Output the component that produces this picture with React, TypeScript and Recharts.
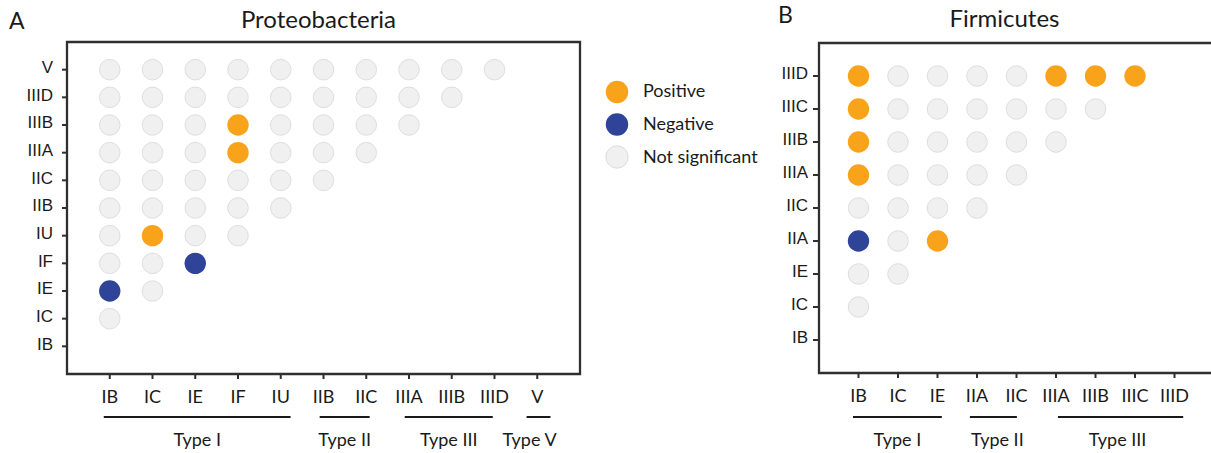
import React from 'react';
import { ScatterChart, Scatter, XAxis, YAxis, ReferenceArea, ReferenceLine, Legend } from 'recharts';

// ---------- data ----------
const proteoCategories = ['IB', 'IC', 'IE', 'IF', 'IU', 'IIB', 'IIC', 'IIIA', 'IIIB', 'IIID', 'V'];
// [x category, y category]
const proteoPositive = [['IC', 'IU'], ['IF', 'IIIA'], ['IF', 'IIIB']];
const proteoNegative = [['IB', 'IE'], ['IE', 'IF']];
const proteoGroups = [
  { label: 'Type I', members: ['IB', 'IC', 'IE', 'IF', 'IU'] },
  { label: 'Type II', members: ['IIB', 'IIC'] },
  { label: 'Type III', members: ['IIIA', 'IIIB', 'IIID'] },
  { label: 'Type V', members: ['V'] },
];

const firmCategories = ['IB', 'IC', 'IE', 'IIA', 'IIC', 'IIIA', 'IIIB', 'IIIC', 'IIID'];
const firmPositive = [
  ['IB', 'IIIA'], ['IB', 'IIIB'], ['IB', 'IIIC'], ['IB', 'IIID'],
  ['IE', 'IIA'], ['IIIA', 'IIID'], ['IIIB', 'IIID'], ['IIIC', 'IIID'],
];
const firmNegative = [['IB', 'IIA']];
const firmGroups = [
  { label: 'Type I', members: ['IB', 'IC', 'IE'] },
  { label: 'Type II', members: ['IIA', 'IIC'] },
  { label: 'Type III', members: ['IIIA', 'IIIB', 'IIIC', 'IIID'] },
];

const legendItems = ['Positive', 'Negative', 'Not significant'];

// ---------- styles / layout ----------
const COLORS: Record<string, string> = {
  Positive: '#F9A31B',
  Negative: '#2F4398',
  'Not significant': '#F0F0F0',
};
const NS_STROKE = '#D2D2D2';
const AXIS = '#2f2f2f';
const TEXT = '#1a1a1a';
const LATO = "Lato, 'Open Sans', sans-serif";
const ARIAL = "'Liberation Sans', Arial, sans-serif";

// bracket extents (axis units, start/end pad around member categories)
const proteoBracketPads = [[0.14, 0.23], [0.09, 0.08], [0.1, -0.04], [0.25, 0.31]];
const proteoLabelDx = [0, 0, 0, -9];
const firmBracketPads = [[0.14, 0.11], [0.18, 0.01], [-0.05, 0.22]];
const firmLabelDx = [0, 4, -3];

function buildCells(cats: string[], pos: string[][], neg: string[][]) {
  const isIn = (list: string[][], a: string, b: string) => list.some((p) => p[0] === a && p[1] === b);
  const out: Record<string, { x: number; y: number }[]> = { Positive: [], Negative: [], 'Not significant': [] };
  cats.forEach((cx, i) => {
    cats.forEach((cy, j) => {
      if (j <= i) return;
      const status = isIn(pos, cx, cy) ? 'Positive' : isIn(neg, cx, cy) ? 'Negative' : 'Not significant';
      out[status].push({ x: i, y: j });
    });
  });
  return out;
}

const Dot = (color: string) => (props: any) => {
  const { cx, cy } = props;
  if (cx == null || cy == null) return <g />;
  if (color === COLORS['Not significant']) {
    return <circle cx={cx} cy={cy} r={10.3} fill={color} stroke={NS_STROKE} strokeWidth={0.7} />;
  }
  return <circle cx={cx} cy={cy} r={10.7} fill={color} />;
};

const LegendBox = () => (
  <svg width={190} height={100} style={{ display: 'block' }}>
    {legendItems.map((name, i) => (
      <g key={name}>
        <circle
          cx={17}
          cy={17 + i * 32.5}
          r={11.2}
          fill={COLORS[name]}
          stroke={name === 'Not significant' ? NS_STROKE : 'none'}
          strokeWidth={0.7}
        />
        <text x={43} y={21.7 + i * 33} fontFamily={LATO} fontSize={18} fill={TEXT}>
          {name}
        </text>
      </g>
    ))}
  </svg>
);

type PanelProps = {
  cats: string[];
  pos: string[][];
  neg: string[][];
  groups: { label: string; members: string[] }[];
  pads: number[][];
  labelDx: number[];
  bracketY: number;
  width: number;
  height: number;
  margin: { top: number; right: number; bottom: number; left: number };
  yTickMargin: number;
  yTickSize: number;
  legend?: boolean;
};

function Panel(p: PanelProps) {
  const cells = buildCells(p.cats, p.pos, p.neg);
  const n = p.cats.length;
  const ticks = p.cats.map((_, i) => i);
  const YTick = (props: any) => (
    <text x={props.x} y={props.y} dy={3.3} textAnchor="end" fontFamily={ARIAL} fontSize={17} fill={TEXT}>
      {p.cats[props.payload.value]}
    </text>
  );
  const XTick = (props: any) => (
    <text x={props.x} y={props.y} dy={22} textAnchor="middle" fontFamily={LATO} fontSize={18} fill={TEXT}>
      {p.cats[props.payload.value]}
    </text>
  );
  return (
    <ScatterChart width={p.width} height={p.height} margin={p.margin}>
      <XAxis
        type="number"
        dataKey="x"
        domain={[-1, n]}
        ticks={ticks}
        interval={0}
        axisLine={false}
        tickLine={{ stroke: AXIS, strokeWidth: 2 }}
        tickSize={5}
        tickMargin={2}
        tick={XTick}
        height={30}
      />
      <YAxis
        type="number"
        dataKey="y"
        domain={[-1, n]}
        ticks={ticks}
        interval={0}
        axisLine={false}
        tickLine={{ stroke: AXIS, strokeWidth: 2 }}
        tickSize={p.yTickSize}
        tickMargin={p.yTickMargin}
        tick={YTick}
        width={60}
      />
      <ReferenceArea x1={-1} x2={n} y1={-1} y2={n} fill="none" stroke={AXIS} strokeWidth={2.3} fillOpacity={0} />
      {p.groups.map((g, gi) => {
        const a = p.cats.indexOf(g.members[0]) - p.pads[gi][0];
        const b = p.cats.indexOf(g.members[g.members.length - 1]) + p.pads[gi][1];
        const dx = p.labelDx[gi];
        return (
          <ReferenceLine
            key={g.label}
            segment={[{ x: a, y: p.bracketY }, { x: b, y: p.bracketY }]}
            ifOverflow="visible"
            stroke="#1a1a1a"
            strokeWidth={2}
            label={(lp: any) => {
              const vb = lp.viewBox || {};
              return (
                <text
                  x={vb.x + (vb.width || 0) / 2 + dx}
                  y={vb.y + 29}
                  textAnchor="middle"
                  fontFamily={LATO}
                  fontSize={18}
                  fill={TEXT}
                >
                  {g.label}
                </text>
              );
            }}
          />
        );
      })}
      <Scatter name="Not significant" data={cells['Not significant']} shape={Dot(COLORS['Not significant'])} isAnimationActive={false} />
      <Scatter name="Positive" data={cells['Positive']} shape={Dot(COLORS['Positive'])} isAnimationActive={false} />
      <Scatter name="Negative" data={cells['Negative']} shape={Dot(COLORS['Negative'])} isAnimationActive={false} />
      {p.legend && (
        <Legend
          layout="vertical"
          align="center"
          verticalAlign="middle"
          wrapperStyle={{ left: 600, top: 75, width: 190, height: 100 }}
          content={() => <LegendBox />}
        />
      )}
    </ScatterChart>
  );
}

export default function App() {
  return (
    <div
      style={{
        position: 'fixed',
        left: 0,
        top: 0,
        width: 1211,
        height: 453,
        overflow: 'hidden',
        background: '#fff',
      }}
    >
      <div style={{ position: 'absolute', left: 0, top: 0 }}>
        <Panel
          cats={proteoCategories}
          pos={proteoPositive}
          neg={proteoNegative}
          groups={proteoGroups}
          pads={proteoBracketPads}
          labelDx={proteoLabelDx}
          bracketY={-2.554}
          width={800}
          height={453}
          margin={{ top: 42, right: 220, bottom: 49, left: 7 }}
          yTickSize={5}
          yTickMargin={9}
          legend
        />
      </div>
      <div style={{ position: 'absolute', left: 740, top: 0 }}>
        <Panel
          cats={firmCategories}
          pos={firmPositive}
          neg={firmNegative}
          groups={firmGroups}
          pads={firmBracketPads}
          labelDx={firmLabelDx}
          bracketY={-2.333}
          width={500}
          height={453}
          margin={{ top: 43, right: 26, bottom: 50, left: 19 }}
          yTickSize={6}
          yTickMargin={5}
        />
      </div>
      <svg
        width={1211}
        height={453}
        style={{ position: 'absolute', left: 0, top: 0, pointerEvents: 'none' }}
      >
        <text x={9} y={29.3} fontFamily={LATO} fontSize={23} fill={TEXT}>A</text>
        <text x={318.5} y={28.3} textAnchor="middle" fontFamily={LATO} fontSize={24} fill={TEXT}>Proteobacteria</text>
        <text x={778} y={23.3} fontFamily={LATO} fontSize={23} fill={TEXT}>B</text>
        <text x={1004.5} y={26.7} textAnchor="middle" fontFamily={LATO} fontSize={24} fill={TEXT}>Firmicutes</text>
      </svg>
    </div>
  );
}
